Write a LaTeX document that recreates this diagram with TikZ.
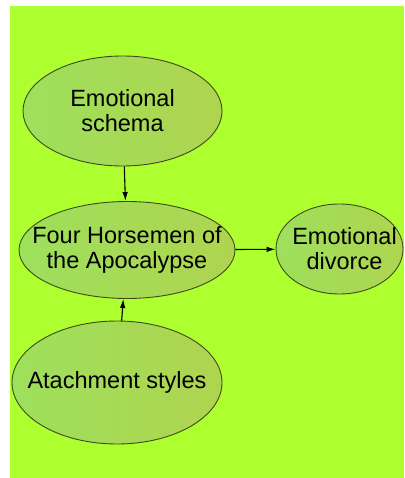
\documentclass[tikz,border=0pt]{standalone}
\usepackage{fontspec}
\setmainfont{Liberation Sans}
\usepackage{tikz}
\usetikzlibrary{shapes.geometric,arrows.meta}
\definecolor{bggreen}{HTML}{ADFF2F}
\definecolor{lgreen}{HTML}{9DE05C}
\definecolor{rgreen}{HTML}{AFD44F}
\definecolor{edgeol}{HTML}{3E4A1C}

\tikzset{
  bubble/.style={ellipse, draw=edgeol, line width=0.9pt, inner sep=0pt,
    left color=lgreen, right color=rgreen},
  txt/.style={align=center, font=\fontsize{23.5}{25}\selectfont},
  link/.style={-{Latex[length=9pt,width=5.5pt]}, line width=1.1pt, black}
}

\begin{document}
\begin{tikzpicture}[x=1pt,y=1pt]
\useasboundingbox (0,0) rectangle (404,-478);
\fill[bggreen] (10,-6) rectangle (404,-478);

\node[bubble, minimum width=199pt, minimum height=110pt,
  label={[txt]center:Emotional\\schema}] (schema) at (122.5,-111) {};
\node[bubble, minimum width=216pt, minimum height=97pt,
  label={[txt]center:Four Horsemen of\\the Apocalypse}] (four) at (127,-250) {};
\node[bubble, minimum width=127pt, minimum height=90pt,
  label={[txt,xshift=5pt]center:Emotional\\divorce}] (divorce) at (339.5,-249) {};
\node[bubble, minimum width=210pt, minimum height=123pt,
  label={[txt]center:Atachment styles}] (attach) at (117,-382.5) {};

\draw[link] (schema) -- (four);
\draw[link] (attach) -- (four);
\draw[link] (four) -- (divorce);
\end{tikzpicture}
\end{document}
